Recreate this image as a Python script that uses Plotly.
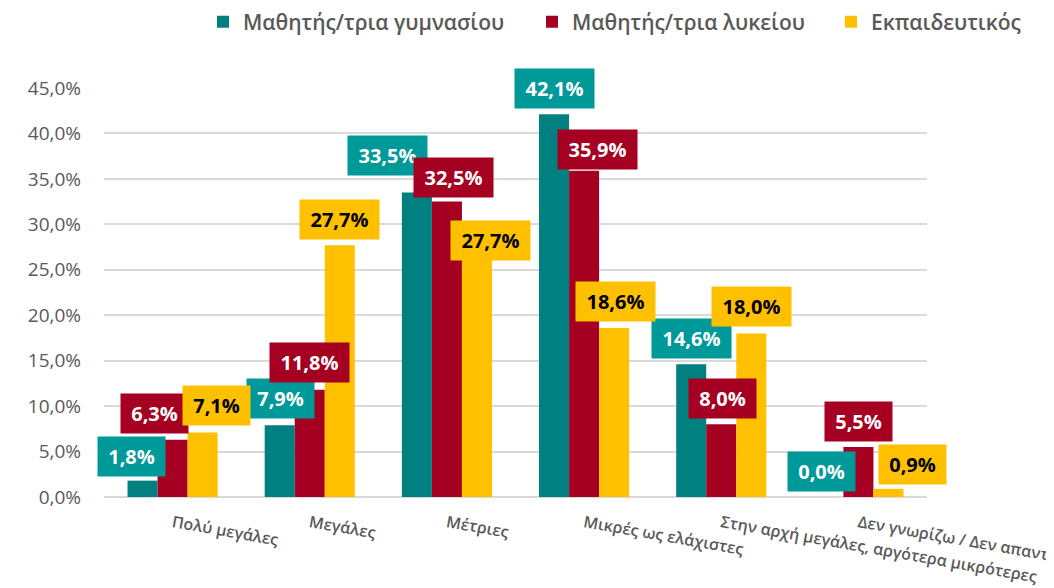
import plotly.graph_objects as go

categories = ["Πολύ μεγάλες", "Μεγάλες", "Μέτριες", "Μικρές ως ελάχιστες",
              "Στην αρχή μεγάλες, αργότερα μικρότερες", "Δεν γνωρίζω / Δεν απαντώ"]
gymnasio = [1.8, 7.9, 33.5, 42.1, 14.6, 0.0]
lykeio = [6.3, 11.8, 32.5, 35.9, 8.0, 5.5]
ekpaideutikos = [7.1, 27.7, 27.7, 18.6, 18.0, 0.9]
series_names = ["Μαθητής/τρια γυμνασίου", "Μαθητής/τρια λυκείου", "Εκπαιδευτικός"]
y_ticks = [0, 5, 10, 15, 20, 25, 30, 35, 40, 45]
y_ticktext = [f"{t:.1f}".replace(".", ",") + "%" for t in y_ticks]

# styling
bar_colors = ["#008080", "#A50021", "#FFC000"]
label_bg = ["#009999", "#A50021", "#FFC000"]
label_fg = ["white", "white", "black"]
bar_offsets = [-0.219, 0.0, 0.219]
# manual label placement (pixel shifts from each bar's top centre)
label_shifts = [
    [(-11.5, 24), (0.5, 26.5), (-29.5, 37), (0.5, 26), (0.5, 26), (-7, 26)],
    [(-18.5, 26.5), (0, 27), (6.5, 24), (13.5, 21), (1.5, 26), (0, 26)],
    [(13.5, 26.5), (0, 26), (13.5, 5), (1.5, 26.5), (0.5, 27), (24, 24.5)],
]

FONT = "Open Sans, Noto Sans, DejaVu Sans, sans-serif"
all_series = [gymnasio, lykeio, ekpaideutikos]

# the page body adds an 8px offset; the figure is sized to compensate
W, H = 1046, 580

fig = go.Figure()
legend_ids = ["legend", "legend2", "legend3"]
for s, (name, vals) in enumerate(zip(series_names, all_series)):
    fig.add_trace(go.Bar(
        x=categories, y=vals, name=name,
        marker=dict(color=bar_colors[s], line=dict(width=0)),
        legend=legend_ids[s], showlegend=True,
    ))

annotations = []
for s, vals in enumerate(all_series):
    for i, v in enumerate(vals):
        dx, dy = label_shifts[s][i]
        txt = f"{v:.1f}".replace(".", ",") + "%"
        annotations.append(dict(
            x=i + bar_offsets[s], y=v, xref="x", yref="y",
            text=f"<b>{txt}</b>", showarrow=False,
            xanchor="center", yanchor="middle",
            xshift=dx, yshift=dy,
            bgcolor=label_bg[s], borderpad=6,
            width=12 * len(txt) + 7,
            font=dict(family=FONT, size=20, color=label_fg[s]),
        ))

legend_x = [195, 524, 823]
legend_common = dict(
    orientation="h", xref="container", yref="container",
    y=1 - 14 / H, yanchor="middle", xanchor="left",
    font=dict(family=FONT, size=21, color="#595959", weight=600),
    bgcolor="rgba(0,0,0,0)",
)
fig.update_layout(
    width=W, height=H,
    margin=dict(l=96, r=127, t=80, b=91, autoexpand=False),
    paper_bgcolor="white", plot_bgcolor="white",
    showlegend=True,
    barmode="group", bargap=0.343, bargroupgap=0,
    annotations=annotations,
    legend=dict(x=legend_x[0] / W, **legend_common),
    legend2=dict(x=legend_x[1] / W, **legend_common),
    legend3=dict(x=legend_x[2] / W, **legend_common),
    xaxis=dict(
        type="category", tickangle=10, automargin=False,
        range=[-0.5, len(categories) - 0.5],
        tickfont=dict(family=FONT, size=16, color="#595959", weight=600),
        showgrid=False, showline=False, ticks="",
        ticklabelstandoff=13,
    ),
    yaxis=dict(
        range=[0, 45], tickvals=y_ticks, ticktext=y_ticktext, automargin=False,
        tickfont=dict(family=FONT, size=19, color="#595959"),
        showgrid=True, gridcolor="#D9D9D9", gridwidth=1.5,
        zeroline=True, zerolinecolor="#D9D9D9", zerolinewidth=1.5,
        ticks="", ticklabelstandoff=22,
    ),
)

fig.write_html("out.html")
